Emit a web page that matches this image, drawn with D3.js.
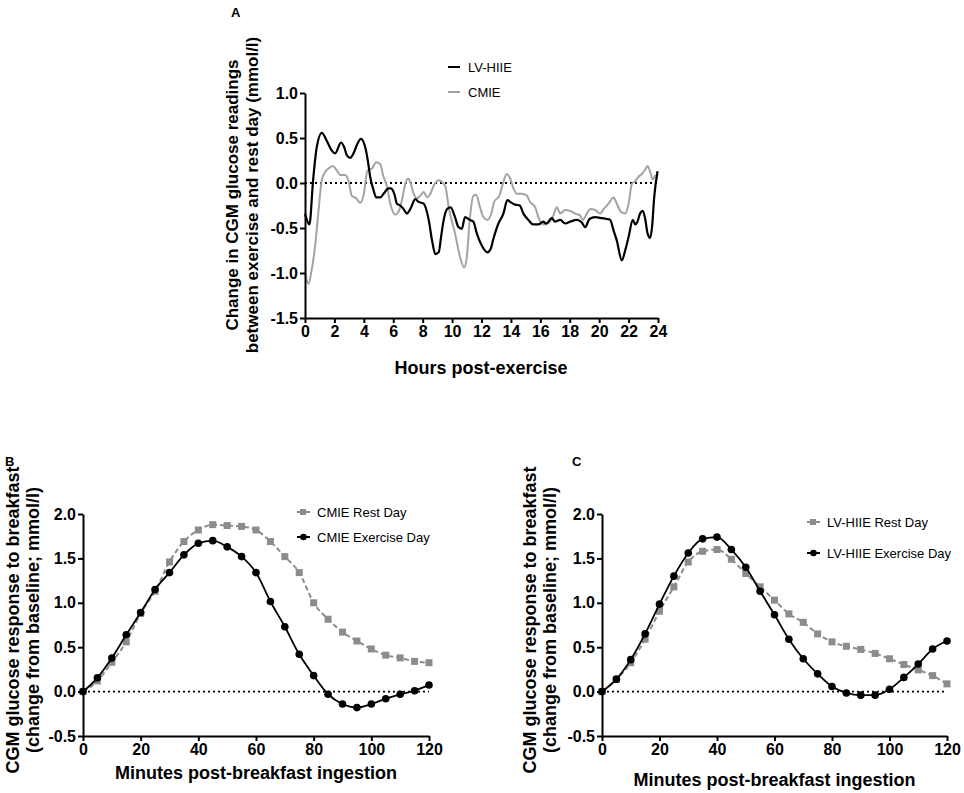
<!DOCTYPE html>
<html><head><meta charset="utf-8">
<script src="https://cdn.jsdelivr.net/npm/d3@7/dist/d3.min.js"></script>
<style>
body{margin:0;background:#fff;}
svg{display:block;font-family:"Liberation Sans",Arial,sans-serif;}
</style></head>
<body><svg id="c" width="964" height="793"></svg>
<script>
// ---- Panel A data (hours post-exercise, change in mmol/l) ----
const hoursLV = [0,0.3,0.55,0.8,1.14,1.48,1.82,2.05,2.45,2.66,2.84,3.07,3.3,3.52,3.8,4.09,4.27,4.43,4.66,4.84,5.11,5.34,5.68,5.84,6.07,6.25,6.48,6.7,6.93,7.16,7.5,7.73,8.07,8.41,8.64,8.86,9.09,9.25,9.43,9.66,9.9,10.2,10.43,10.66,10.88,11.2,11.45,11.68,12.0,12.4,12.63,12.81,13.15,13.49,13.76,13.95,14.29,14.6,14.85,15.19,15.5,15.87,16.2,16.4,16.78,17.0,17.35,17.69,18.03,18.48,18.82,19.05,19.34,19.73,20.18,20.52,20.75,20.98,21.2,21.54,21.77,22.0,22.29,22.45,22.6,22.78,22.97,23.13,23.29,23.47,23.6,23.74,23.97];
const valuesLV = [-0.34,-0.46,0.03,0.4,0.556,0.47,0.36,0.33,0.45,0.4,0.31,0.28,0.33,0.42,0.49,0.4,0.25,0.07,-0.08,-0.16,-0.16,-0.12,-0.06,-0.06,-0.12,-0.23,-0.25,-0.29,-0.34,-0.29,-0.18,-0.21,-0.23,-0.41,-0.64,-0.79,-0.77,-0.6,-0.41,-0.29,-0.27,-0.38,-0.49,-0.51,-0.38,-0.41,-0.43,-0.56,-0.69,-0.77,-0.73,-0.62,-0.45,-0.34,-0.19,-0.21,-0.24,-0.25,-0.34,-0.41,-0.46,-0.46,-0.43,-0.45,-0.39,-0.43,-0.41,-0.45,-0.43,-0.41,-0.44,-0.49,-0.4,-0.38,-0.39,-0.4,-0.41,-0.53,-0.64,-0.86,-0.75,-0.6,-0.41,-0.46,-0.43,-0.34,-0.31,-0.4,-0.56,-0.61,-0.48,-0.16,0.13];
const hoursCM = [0,0.23,0.45,0.68,0.9,1.14,1.36,1.59,1.89,2.16,2.39,2.73,2.95,3.18,3.48,3.75,3.98,4.25,4.55,4.84,5.11,5.34,5.57,5.8,6.14,6.36,6.59,6.82,7.0,7.16,7.39,7.61,7.84,8.07,8.3,8.52,8.75,9.1,9.32,9.55,9.77,10.2,10.54,10.82,11.0,11.2,11.45,11.63,11.9,12.13,12.4,12.7,12.86,13.22,13.45,13.72,13.95,14.17,14.4,14.74,15.08,15.3,15.65,15.87,16.1,16.33,16.6,16.89,17.12,17.35,17.69,18.03,18.37,18.7,18.89,19.16,19.39,19.73,20.07,20.3,20.64,20.98,21.2,21.48,21.77,22.0,22.22,22.45,22.68,22.9,23.13,23.29,23.47,23.65,23.81];
const valuesCM = [-1.0,-1.12,-0.97,-0.71,-0.34,0.03,0.12,0.16,0.19,0.14,0.09,0.09,0.03,-0.14,-0.17,-0.22,-0.14,0.14,0.16,0.23,0.21,0.07,-0.04,-0.23,-0.35,-0.32,-0.19,-0.01,0.05,0.01,-0.12,-0.17,-0.14,-0.1,-0.16,-0.12,-0.03,0.03,0.01,-0.04,-0.27,-0.56,-0.82,-0.94,-0.82,-0.41,-0.14,-0.13,-0.27,-0.38,-0.41,-0.32,-0.21,-0.14,-0.01,0.1,0.05,-0.06,-0.12,-0.12,-0.14,-0.21,-0.27,-0.38,-0.45,-0.46,-0.44,-0.36,-0.27,-0.34,-0.3,-0.31,-0.34,-0.36,-0.41,-0.34,-0.29,-0.3,-0.34,-0.29,-0.23,-0.16,-0.23,-0.32,-0.34,-0.23,-0.01,0.02,0.07,0.1,0.15,0.19,0.12,0.04,0.09];
const hourTicks = [0,2,4,6,8,10,12,14,16,18,20,22,24];
const changeTicks = [-1.5,-1.0,-0.5,0.0,0.5,1.0];

// ---- Panels B & C data (minutes post-breakfast, change from baseline) ----
const minutes = [0,5,10,15,20,25,30,35,40,45,50,55,60,65,70,75,80,85,90,95,100,105,110,115,120];
const cmieRest = [0,0.12,0.33,0.56,0.88,1.13,1.46,1.69,1.82,1.88,1.87,1.86,1.82,1.69,1.52,1.34,1.0,0.815,0.67,0.57,0.48,0.41,0.38,0.34,0.325];
const cmieExercise = [0,0.155,0.377,0.64,0.89,1.15,1.34,1.54,1.67,1.7,1.63,1.52,1.34,1.015,0.73,0.42,0.18,-0.03,-0.14,-0.18,-0.14,-0.08,-0.03,0.01,0.075];
const lvRest = [0,0.135,0.325,0.59,0.905,1.18,1.46,1.58,1.6,1.49,1.33,1.18,1.03,0.875,0.78,0.65,0.56,0.51,0.475,0.43,0.37,0.305,0.245,0.18,0.087];
const lvExercise = [0,0.14,0.36,0.65,0.985,1.3,1.56,1.72,1.74,1.6,1.4,1.13,0.865,0.59,0.37,0.2,0.057,-0.015,-0.04,-0.04,0.026,0.16,0.31,0.48,0.57];
const minuteTicks = [0,20,40,60,80,100,120];
const responseTicks = [-0.5,0.0,0.5,1.0,1.5,2.0];

const svg = d3.select("#c");
const fmt = d => d.toFixed(1).replace("−","-");

function styleAxis(g, fs){
  g.selectAll("path.domain").attr("stroke","#000").attr("stroke-width",2);
  g.selectAll(".tick line").attr("stroke","#000").attr("stroke-width",2);
  g.selectAll(".tick text").attr("fill","#000").attr("font-size",fs).attr("font-weight","bold")
   .attr("font-family",'"Liberation Sans",Arial,sans-serif');
}

// ================= Panel A =================
{
  const x = d3.scaleLinear().domain([0,24]).range([305,658]);
  const y = d3.scaleLinear().domain([-1.5,1.0]).range([318,93]);
  const g = svg.append("g");
  g.append("line").attr("x1",x(0)).attr("x2",x(24)).attr("y1",y(0)).attr("y2",y(0))
    .attr("stroke","#000").attr("stroke-width",2).attr("stroke-dasharray","2,3");
  const line = d3.line().x(d=>x(d[0])).y(d=>y(d[1])).curve(d3.curveMonotoneX);
  g.append("path").datum(hoursCM.map((h,i)=>[h,valuesCM[i]])).attr("d",line)
    .attr("fill","none").attr("stroke","#a3a3a3").attr("stroke-width",2);
  g.append("path").datum(hoursLV.map((h,i)=>[h,valuesLV[i]])).attr("d",line)
    .attr("fill","none").attr("stroke","#000").attr("stroke-width",2.2);
  const ax = g.append("g").attr("transform",`translate(0,${y(-1.5)})`)
    .call(d3.axisBottom(x).tickValues(hourTicks).tickSize(5).tickSizeOuter(0).tickPadding(3).tickFormat(d=>d));
  styleAxis(ax,16);
  const ay = g.append("g").attr("transform",`translate(${x(0)},0)`)
    .call(d3.axisLeft(y).tickValues(changeTicks).tickSize(5).tickSizeOuter(0).tickPadding(2).tickFormat(fmt));
  styleAxis(ay,16);
  g.append("text").attr("x",481).attr("y",374).attr("text-anchor","middle")
    .attr("font-size",18).attr("font-weight","bold").text("Hours post-exercise");
  const yt = g.append("text").attr("transform","translate(0,195) rotate(-90)")
    .attr("text-anchor","middle").attr("font-size",17).attr("font-weight","bold");
  yt.append("tspan").attr("x",0).attr("y",238).text("Change in CGM glucose readings");
  yt.append("tspan").attr("x",0).attr("y",258).text("between exercise and rest day (mmol/l)");
  g.append("text").attr("x",231).attr("y",17).attr("font-size",13).attr("font-weight","bold").text("A");
  // legend
  g.append("line").attr("x1",448).attr("x2",460).attr("y1",67).attr("y2",67).attr("stroke","#000").attr("stroke-width",2);
  g.append("text").attr("x",468).attr("y",71.5).attr("font-size",13).text("LV-HIIE");
  g.append("line").attr("x1",448).attr("x2",460).attr("y1",92).attr("y2",92).attr("stroke","#a3a3a3").attr("stroke-width",2);
  g.append("text").attr("x",468).attr("y",96.5).attr("font-size",13).text("CMIE");
}

// ================= Panels B & C =================
function panel(opt){
  const x = d3.scaleLinear().domain([0,120]).range([opt.x0,opt.x1]);
  const y = d3.scaleLinear().domain([-0.5,2.0]).range([736,514]);
  const g = svg.append("g");
  g.append("line").attr("x1",x(0)).attr("x2",x(120)).attr("y1",y(0)).attr("y2",y(0))
    .attr("stroke","#000").attr("stroke-width",1.6).attr("stroke-dasharray","2,3");
  const line = d3.line().x(d=>x(d[0])).y(d=>y(d[1])).curve(d3.curveMonotoneX);
  const rest = minutes.map((m,i)=>[m,opt.rest[i]]);
  const ex = minutes.map((m,i)=>[m,opt.ex[i]]);
  g.append("path").datum(rest).attr("d",line).attr("fill","none")
    .attr("stroke","#8c8c8c").attr("stroke-width",2).attr("stroke-dasharray","5,3");
  g.selectAll("rect.sq").data(rest).join("rect").attr("class","sq")
    .attr("x",d=>x(d[0])-3.5).attr("y",d=>y(d[1])-3.5).attr("width",7).attr("height",7).attr("fill","#8c8c8c");
  g.append("path").datum(ex).attr("d",line).attr("fill","none")
    .attr("stroke","#000").attr("stroke-width",1.8);
  g.selectAll("circle.pt").data(ex).join("circle").attr("class","pt")
    .attr("cx",d=>x(d[0])).attr("cy",d=>y(d[1])).attr("r",3.8).attr("fill","#000");
  const ax = g.append("g").attr("transform",`translate(0,${y(-0.5)})`)
    .call(d3.axisBottom(x).tickValues(minuteTicks).tickSize(5).tickSizeOuter(0).tickPadding(3).tickFormat(d=>d));
  styleAxis(ax,16);
  const ay = g.append("g").attr("transform",`translate(${x(0)},0)`)
    .call(d3.axisLeft(y).tickValues(responseTicks).tickSize(5).tickSizeOuter(0).tickPadding(2).tickFormat(fmt));
  styleAxis(ay,16);
  g.append("text").attr("x",(opt.x0+opt.x1)/2).attr("y",opt.xtY).attr("text-anchor","middle")
    .attr("font-size",18).attr("font-weight","bold").text("Minutes post-breakfast ingestion");
  const yt = g.append("text").attr("transform","translate(0,620) rotate(-90)")
    .attr("text-anchor","middle").attr("font-size",18).attr("font-weight","bold");
  yt.append("tspan").attr("x",0).attr("y",opt.ytX).text("CGM glucose response to breakfast");
  yt.append("tspan").attr("x",0).attr("y",opt.ytX+20).text("(change from baseline; mmol/l)");
  g.append("text").attr("x",opt.labX).attr("y",466).attr("font-size",13).attr("font-weight","bold").text(opt.label);
  // legend
  const lx = opt.legX;
  g.append("line").attr("x1",lx-6).attr("x2",lx+7).attr("y1",opt.legY1).attr("y2",opt.legY1)
    .attr("stroke","#8c8c8c").attr("stroke-width",2);
  g.append("rect").attr("x",lx-3).attr("y",opt.legY1-3).attr("width",6).attr("height",6).attr("fill","#8c8c8c");
  g.append("text").attr("x",lx+14).attr("y",opt.legY1+4.5).attr("font-size",13).text(opt.restName);
  g.append("line").attr("x1",lx-6).attr("x2",lx+7).attr("y1",opt.legY2).attr("y2",opt.legY2)
    .attr("stroke","#000").attr("stroke-width",2);
  g.append("circle").attr("cx",lx+0.5).attr("cy",opt.legY2).attr("r",3.3).attr("fill","#000");
  g.append("text").attr("x",lx+14).attr("y",opt.legY2+4.5).attr("font-size",13).text(opt.exName);
}
panel({x0:83,x1:429,rest:cmieRest,ex:cmieExercise,xtY:779,ytX:19,label:"B",labX:5,
  legX:303,legY1:512,legY2:537,restName:"CMIE Rest Day",exName:"CMIE Exercise Day"});
panel({x0:602,x1:947,rest:lvRest,ex:lvExercise,xtY:786,ytX:536,label:"C",labX:572,
  legX:813,legY1:522,legY2:553,restName:"LV-HIIE Rest Day",exName:"LV-HIIE Exercise Day"});
</script></body></html>
